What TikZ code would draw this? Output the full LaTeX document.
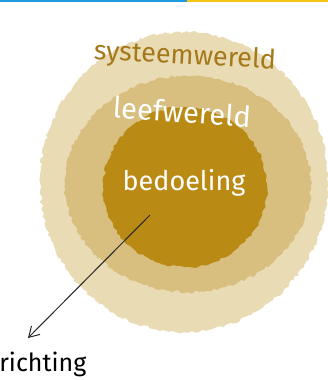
\documentclass[tikz,border=0pt]{standalone}
\usepackage{fontspec}
\setmainfont{Fira Sans}
\usetikzlibrary{arrows.meta,decorations.pathmorphing}
\definecolor{outerring}{HTML}{E9DBB3}
\definecolor{midring}{HTML}{D8BF80}
\definecolor{core}{HTML}{B98A14}
\definecolor{ringtext}{HTML}{A5781A}
\definecolor{topblue}{HTML}{1E9BE0}
\definecolor{topyellow}{HTML}{F5C518}
\tikzset{
  brush/.style={decorate, decoration={random steps, segment length=3pt, amplitude=1.4pt}},
  label/.style={inner sep=0pt, font=\fontsize{27}{30}\selectfont}
}
\begin{document}
\begin{tikzpicture}[x=1pt, y=-1pt, line width=0.6pt]
  \pgfmathsetseed{7}
  \useasboundingbox (0,0) rectangle (328,380);
  \fill[topblue] (0,0) rectangle (187,1.5);
  \fill[topyellow] (187,0) rectangle (328,1.5);
  \fill[outerring, brush] (184,182) ellipse [x radius=144, y radius=150];
  \fill[midring, brush] (188,184) ellipse [x radius=123, y radius=108];
  \fill[core, brush] (185,187) ellipse [x radius=82, y radius=80];
  \node[label, text=ringtext, rotate=-3] (systeem) at (185,57) {systeemwereld};
  \node[label, text=white, rotate=-4, font=\fontsize{29}{32}\selectfont] (leef) at (182,112) {leefwereld};
  \node[label, text=white] (bedoeling) at (184,183) {bedoeling};
  \node[label, font=\fontsize{25}{28}\selectfont, anchor=west] (richting) at (-1,364) {richting};
  \coordinate (start) at (150,215);
  \draw[-{Straight Barb[length=10pt, width=12pt]}, line width=1pt, black!85] (start) -- (28,338);
\end{tikzpicture}
\end{document}
